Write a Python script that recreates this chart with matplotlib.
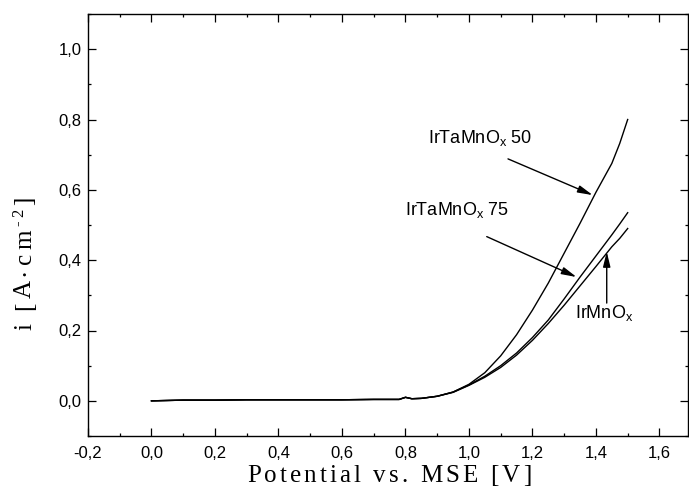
import matplotlib
matplotlib.use("Agg")
import matplotlib.pyplot as plt
from matplotlib.font_manager import FontProperties, findfont
from matplotlib.ft2font import FT2Font
from matplotlib.ticker import MultipleLocator, FixedLocator

# ---- data: anodic polarisation curves, current density vs potential ----
potential = [0.00, 0.10, 0.20, 0.30, 0.40, 0.50, 0.60, 0.70, 0.78, 0.80, 0.82,
             0.85, 0.90, 0.95, 1.00, 1.05, 1.10, 1.15, 1.20, 1.25, 1.30, 1.35,
             1.40, 1.45, 1.475, 1.50]

i_irtamno_50 = [0.000, 0.002, 0.002, 0.003, 0.003, 0.003, 0.003, 0.004, 0.004,
                0.010, 0.006, 0.007, 0.013, 0.025, 0.047, 0.080, 0.128, 0.188,
                0.258, 0.335, 0.420, 0.505, 0.593, 0.675, 0.732, 0.800]

i_irtamno_75 = [0.000, 0.002, 0.002, 0.003, 0.003, 0.003, 0.003, 0.004, 0.004,
                0.010, 0.006, 0.007, 0.013, 0.025, 0.045, 0.070, 0.100, 0.136,
                0.180, 0.230, 0.290, 0.352, 0.412, 0.472, 0.503, 0.535]

i_irmno = [0.000, 0.002, 0.002, 0.003, 0.003, 0.003, 0.003, 0.004, 0.004,
           0.010, 0.006, 0.007, 0.013, 0.024, 0.044, 0.067, 0.095, 0.130,
           0.172, 0.220, 0.272, 0.327, 0.382, 0.438, 0.462, 0.490]

x_ticks = [-0.2, 0.0, 0.2, 0.4, 0.6, 0.8, 1.0, 1.2, 1.4, 1.6]
x_tick_labels = ["-0,2", "0,0", "0,2", "0,4", "0,6", "0,8", "1,0", "1,2", "1,4", "1,6"]
y_ticks = [0.0, 0.2, 0.4, 0.6, 0.8, 1.0]
y_tick_labels = ["0,0", "0,2", "0,4", "0,6", "0,8", "1,0"]

W, H, DPI = 689, 491, 100
SANS = "Liberation Sans"
SERIF = "Liberation Serif"

plt.rcParams["mathtext.fontset"] = "custom"
plt.rcParams["mathtext.rm"] = SANS
plt.rcParams["font.family"] = [SANS, "DejaVu Sans"]

fig = plt.figure(figsize=(W / DPI, H / DPI), dpi=DPI)
fig.patch.set_facecolor("white")

# axes frame in pixel terms
left, right, top, bottom = 88, 688, 14, 436
ax = fig.add_axes([left / W, 1 - bottom / H, (right - left) / W, (bottom - top) / H])

ax.plot(potential, i_irtamno_50, color="black", lw=1.0)
ax.plot(potential, i_irtamno_75, color="black", lw=1.0)
ax.plot(potential, i_irmno, color="black", lw=1.0)

ax.set_xlim(-0.2, 1.69)
ax.set_ylim(-0.1, 1.1)

ax.xaxis.set_major_locator(FixedLocator(x_ticks))
ax.set_xticklabels(x_tick_labels)
ax.yaxis.set_major_locator(FixedLocator(y_ticks))
ax.set_yticklabels(y_tick_labels)
ax.xaxis.set_minor_locator(MultipleLocator(0.1))
ax.yaxis.set_minor_locator(MultipleLocator(0.1))

ax.tick_params(which="both", direction="in", top=True, right=True,
               width=0.9, colors="black", labelsize=12)
ax.tick_params(which="major", length=5.5)
ax.tick_params(which="minor", length=2.5)
ax.tick_params(axis="y", which="major", pad=4.5)
ax.tick_params(axis="x", which="major", pad=7.5)
for lab in ax.get_xticklabels() + ax.get_yticklabels():
    lab.set_fontfamily(SANS)
for sp in ax.spines.values():
    sp.set_linewidth(1.0)

# ---- annotations with arrows ----
arrow_kw = dict(arrowstyle="-|>,head_length=0.9,head_width=0.22",
                color="black", lw=1.0, shrinkA=0, shrinkB=0)
label_kw = dict(fontsize=13, fontfamily=SANS, ha="left", va="baseline")

ax.annotate("", xy=(1.39, 0.585), xytext=(1.123, 0.688), arrowprops=arrow_kw)
ax.text(0.871, 0.732, r"IrTaMnO$_\mathregular{x}$ 50", **label_kw)

ax.annotate("", xy=(1.339, 0.352), xytext=(1.056, 0.467), arrowprops=arrow_kw)
ax.text(0.798, 0.528, r"IrTaMnO$_\mathregular{x}$ 75", **label_kw)

ax.annotate("", xy=(1.434, 0.424), xytext=(1.434, 0.278), arrowprops=arrow_kw)
ax.text(1.334, 0.235, r"IrMnO$_\mathregular{x}$", **label_kw)

# ---- letter-spaced serif axis titles ----
_ft_cache = {}


def advance(ch, size):
    path = findfont(FontProperties(family=SERIF))
    key = (path, size)
    if key not in _ft_cache:
        ft = FT2Font(path)
        ft.set_size(size, DPI)
        _ft_cache[key] = ft
    ft = _ft_cache[key]
    g = ft.load_char(ord(ch))
    return g.linearHoriAdvance / 65536.0


def tracked_text(x_px, y_px, pieces, tracking, rotation=0):
    """Place text one glyph at a time with extra spacing (pixel coords from top-left)."""
    pos = 0.0
    for s, size, rise in pieces:
        for ch in s:
            if rotation == 0:
                x, y = x_px + pos, y_px - rise
            else:
                x, y = x_px - rise, y_px - pos
            if ch != " ":
                fig.text(x / W, 1 - y / H, ch, fontsize=size, fontfamily=SERIF,
                         rotation=rotation, rotation_mode="anchor",
                         ha="left", va="baseline", color="black")
            pos += advance(ch, size) + tracking


tracked_text(247, 482, [("Potential vs. MSE [V]", 18, 0)], tracking=3.1)
tracked_text(31, 330, [("i [A\u00b7cm", 18, 0), ("-2", 12, 8), ("]", 18, 0)],
             tracking=3.6, rotation=90)

fig.savefig("out.png", dpi=DPI, facecolor="white")
